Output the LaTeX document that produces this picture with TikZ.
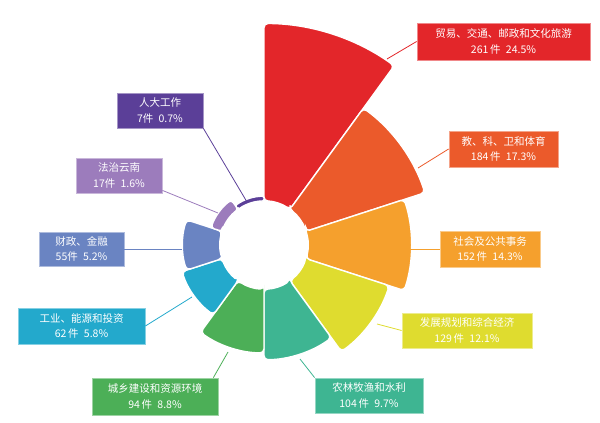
\documentclass[tikz,border=0pt]{standalone}
\usepackage{fontspec}
\setmainfont{Noto Sans CJK SC}
\usetikzlibrary{calc}
\definecolor{cA}{HTML}{E3262A}
\definecolor{cB}{HTML}{EB5A2B}
\definecolor{cC}{HTML}{F5A02D}
\definecolor{cD}{HTML}{DFDC2F}
\definecolor{cE}{HTML}{3EB592}
\definecolor{cF}{HTML}{4CAF57}
\definecolor{cG}{HTML}{23A9CC}
\definecolor{cH}{HTML}{6A84C2}
\definecolor{cI}{HTML}{9C7CBC}
\definecolor{cJ}{HTML}{5B3F98}
\newcommand\rosesector[5]{%
  \filldraw[fill=#4, draw=white, line width=1.4pt, rounded corners=#5]
    (#1:44pt) -- (#1:#3pt) arc[start angle=#1, end angle=#2, radius=#3pt]
    -- (#2:44pt) arc[start angle=#2, end angle=#1, radius=44pt] -- cycle;}
\tikzset{
  lbl/.style={draw=#1!55!white, fill=#1, text=white, line width=0.8pt,
    align=center, inner sep=0pt,
    font=\fontsize{10.5}{15.5}\selectfont},
  leader/.style={draw=#1, line width=0.8pt}
}
\begin{document}
\begin{tikzpicture}[x=1pt,y=1pt]
\useasboundingbox (0,0) rectangle (600,423);
\begin{scope}[shift={(264,178)}]
  \rosesector{90}{54}{221.5}{cA}{4pt}
  \rosesector{54}{18}{169.1}{cB}{4pt}
  \rosesector{18}{-18}{147.4}{cC}{4pt}
  \rosesector{-18}{-54}{131.7}{cD}{4pt}
  \rosesector{-54}{-90}{114.7}{cE}{4pt}
  \rosesector{-90}{-126}{107.9}{cF}{4pt}
  \rosesector{-126}{-162}{86.2}{cG}{4pt}
  \rosesector{-162}{-198}{81.4}{cH}{4pt}
  \rosesector{-198}{-234}{55.6}{cI}{3pt}
  \rosesector{-234}{-270}{48.8}{cJ}{1.5pt}
\end{scope}
% label boxes
\node[lbl=cA, minimum width=173, minimum height=37] (b1) at (503.5,381.5) {贸易、交通、邮政和文化旅游\\261\,件\enspace 24.5\%};
\node[lbl=cB, minimum width=109, minimum height=36] (b2) at (503.5,274) {教、科、卫和体育\\184\,件\enspace 17.3\%};
\node[lbl=cC, minimum width=100, minimum height=36] (b3) at (490,174) {社会及公共事务\\152\,件\enspace 14.3\%};
\node[lbl=cD, minimum width=130, minimum height=35] (b4) at (467,92.5) {发展规划和综合经济\\129\,件\enspace 12.1\%};
\node[lbl=cE, minimum width=108, minimum height=35] (b5) at (369,27.5) {农林牧渔和水利\\104\,件\enspace 9.7\%};
\node[lbl=cF, minimum width=126, minimum height=37] (b6) at (155,26.5) {城乡建设和资源环境\\94\,件\enspace 8.8\%};
\node[lbl=cG, minimum width=127, minimum height=36] (b7) at (81.5,97) {工业、能源和投资\\62\,件\enspace 5.8\%};
\node[lbl=cH, minimum width=85, minimum height=34] (b8) at (81.5,174) {财政、金融\\55件\enspace 5.2\%};
\node[lbl=cI, minimum width=86, minimum height=35] (b9) at (119,247.5) {法治云南\\17件\enspace 1.6\%};
\node[lbl=cJ, minimum width=86, minimum height=35] (b10) at (160,312.5) {人大工作\\7件\enspace 0.7\%};
% leader end points on sectors
\coordinate (s1) at (387,364);
\coordinate (s2) at (418,255);
\coordinate (s3) at (410,174);
\coordinate (s4) at (377,99);
\coordinate (s5) at (300,64);
\coordinate (s6) at (228,71);
\coordinate (s7) at (192,126);
\coordinate (s8) at (182,174);
\coordinate (s9) at (218,210);
\coordinate (s10) at (247,221);
\draw[leader=cA] (b1.west) -- (s1);
\draw[leader=cB] (b2.west) -- (s2);
\draw[leader=cC] (b3.west) -- (s3);
\draw[leader=cD] (b4.west) -- (s4);
\draw[leader=cE] (b5.north west) -- (s5);
\draw[leader=cF] ($(b6.north east)+(-5,0)$) -- (s6);
\draw[leader=cG] (b7.east) -- (s7);
\draw[leader=cH] (b8.east) -- (s8);
\draw[leader=cI] ($(b9.south east)+(0,3)$) -- (s9);
\draw[leader=cJ] (b10.south east) -- (s10);
\end{tikzpicture}
\end{document}
